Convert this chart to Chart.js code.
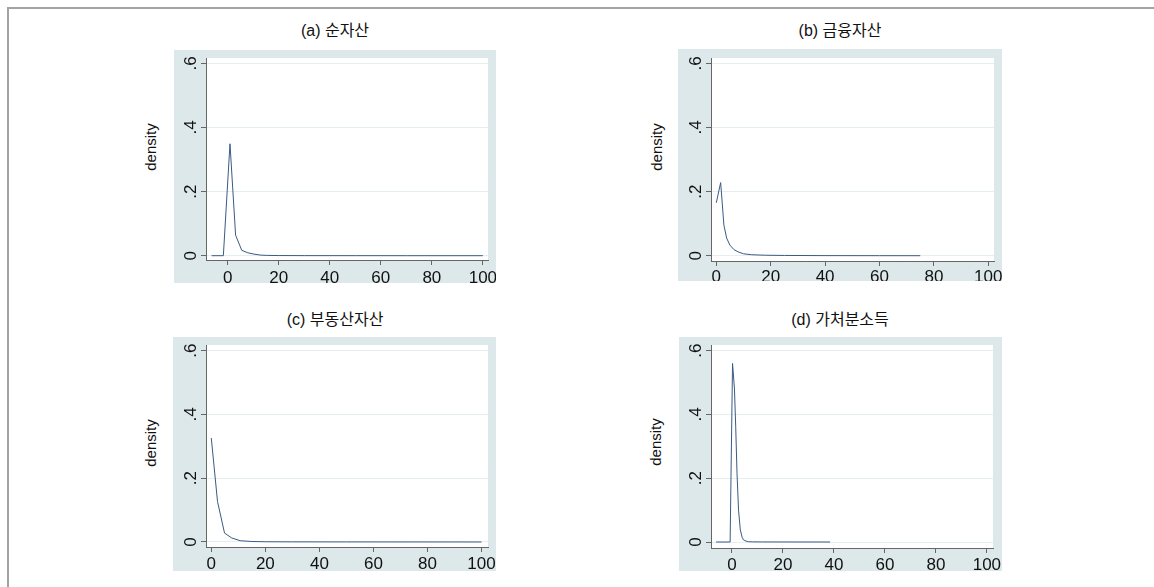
<!DOCTYPE html>
<html lang="ko">
<head>
<meta charset="UTF-8">
<title>자산 및 소득 분포 밀도</title>
<script src="https://cdn.jsdelivr.net/npm/chart.js"></script>
<style>
  body { margin: 0; width: 1154px; height: 587px; background: #fff; position: relative; overflow: hidden;
         font-family: "Liberation Sans", "Noto Sans CJK KR", sans-serif; }
  .moldura { position: absolute; left: 7px; top: 7px; right: -5px; bottom: -5px;
             border-top: 2px solid #a3a3a3; border-left: 2px solid #a3a3a3; }
  .painel { position: absolute; background: #dde8ea; }
  .painel canvas { display: block; }
  .titulo { position: absolute; font-size: 16px; color: #111; white-space: nowrap; transform: translate(-50%, -50%); }
  .ylab { position: absolute; font-size: 15px; color: #111; white-space: nowrap; transform: translate(-50%, -50%) rotate(-90deg); }
</style>
</head>
<body>
<div class="moldura"></div>

<script>
// valores
const titulos = ['(a) 순자산', '(b) 금융자산', '(c) 부동산자산', '(d) 가처분소득'];
const rotuloY = 'density';

const xA = [-6.3, -1.7, 0.9, 3.1, 5.5, 7.9, 10.3, 12.7, 15.1, 20, 30, 50, 70, 100];
const yA = [0, 0, 0.349, 0.064, 0.017, 0.009, 0.005, 0.002, 0.001, 0.0005, 0.0002, 0.0001, 0, 0];

const xB = [0, 1.6, 2.8, 3.8, 5, 6.5, 8, 10, 13, 18, 25, 40, 60, 75];
const yB = [0.165, 0.228, 0.095, 0.055, 0.033, 0.019, 0.012, 0.006, 0.003, 0.0015, 0.0008, 0.0003, 0.0001, 0];

const xC = [0, 2.3, 4.9, 7.6, 10.7, 15, 20, 30, 50, 75, 100];
const yC = [0.326, 0.127, 0.028, 0.0125, 0.004, 0.0015, 0.0008, 0.0004, 0.0002, 0.0001, 0];

const xD = [-6.2, -0.7, 0.25, 1.0, 1.5, 2.0, 2.6, 3.3, 4.0, 4.5, 5.5, 6.5, 8, 12, 20, 38.5];
const yD = [0, 0, 0.56, 0.48, 0.36, 0.216, 0.10, 0.038, 0.015, 0.007, 0.003, 0.001, 0.0005, 0.0002, 0.0001, 0];

const xTicks = [0, 20, 40, 60, 80, 100];
const xTickLabels = ['0', '20', '40', '60', '80', '100'];
const yTicks = [0, 0.2, 0.4, 0.6];
const yTickLabels = ['0', '.2', '.4', '.6'];

// posição de cada painel na página: caixa = fundo, area = região do gráfico
const paineis = [
  { x: xA, y: yA, caixa: [174, 50, 496, 283], area: [206, 58, 488, 260], xmin: -8.5, xmax: 102, ymin: -0.0134, ymax: 0.6165, pad: 3, tit: [335, 29], lab: [150, 147] },
  { x: xB, y: yB, caixa: [678, 49, 1002, 281], area: [711, 58, 994, 261], xmin: -1.95, xmax: 102.1, ymin: -0.0165, ymax: 0.6165, pad: 1, tit: [840, 29], lab: [656, 147] },
  { x: xC, y: yC, caixa: [173, 337, 496, 571], area: [206, 345, 488, 547], xmin: -1.96, xmax: 102.4, ymin: -0.0157, ymax: 0.6178, pad: 2, tit: [335, 318], lab: [150, 443] },
  { x: xD, y: yD, caixa: [679, 337, 1002, 571], area: [711, 345, 993, 548], xmin: -8.2, xmax: 102.4, ymin: -0.0188, ymax: 0.6178, pad: 2, tit: [840, 318], lab: [655, 442] }
];

const fonte = { family: '"Liberation Sans", Arial, sans-serif', size: 17 };

// pinta a região do gráfico de branco
const fundoBranco = {
  id: 'fundoBranco',
  beforeDraw(chart) {
    const a = chart.chartArea;
    chart.ctx.save();
    chart.ctx.fillStyle = '#ffffff';
    chart.ctx.fillRect(a.left, a.top, a.right - a.left, a.bottom - a.top);
    chart.ctx.restore();
  }
};

function semPadding(s) {
  s.paddingLeft = 0; s.paddingRight = 0; s.paddingTop = 0; s.paddingBottom = 0;
}

paineis.forEach(function(p, i) {
  const [bl, bt, br, bb] = p.caixa;
  const [al, at, ar, ab] = p.area;

  const div = document.createElement('div');
  div.className = 'painel';
  div.style.left = bl + 'px';
  div.style.top = bt + 'px';
  div.style.width = (br - bl) + 'px';
  div.style.height = (bb - bt) + 'px';
  const canvas = document.createElement('canvas');
  canvas.width = br - bl;
  canvas.height = bb - bt;
  div.appendChild(canvas);
  document.body.appendChild(div);

  const t = document.createElement('div');
  t.className = 'titulo';
  t.textContent = titulos[i];
  t.style.left = p.tit[0] + 'px';
  t.style.top = p.tit[1] + 'px';
  document.body.appendChild(t);

  const l = document.createElement('div');
  l.className = 'ylab';
  l.textContent = rotuloY;
  l.style.left = p.lab[0] + 'px';
  l.style.top = p.lab[1] + 'px';
  document.body.appendChild(l);

  new Chart(canvas, {
    type: 'scatter',
    data: {
      datasets: [{
        data: p.x.map((v, k) => ({ x: v, y: p.y[k] })),
        showLine: true,
        borderColor: '#3b5b82',
        borderWidth: 1,
        pointRadius: 0,
        tension: 0
      }]
    },
    options: {
      responsive: false,
      animation: false,
      layout: { padding: { left: 0, top: at - bt, right: br - ar, bottom: 0 } },
      plugins: { legend: { display: false }, tooltip: { enabled: false } },
      scales: {
        x: {
          type: 'linear',
          min: p.xmin,
          max: p.xmax,
          afterBuildTicks: s => { s.ticks = xTicks.map(v => ({ value: v })); },
          afterFit: s => { s.height = bb - ab; semPadding(s); },
          ticks: {
            callback: v => xTickLabels[xTicks.indexOf(v)],
            font: fonte, color: '#111', padding: p.pad, maxRotation: 0, autoSkip: false
          },
          grid: { drawOnChartArea: false, tickLength: 5, tickColor: '#666' },
          border: { color: '#666', width: 1 }
        },
        y: {
          type: 'linear',
          min: p.ymin,
          max: p.ymax,
          afterBuildTicks: s => { s.ticks = yTicks.map(v => ({ value: v })); },
          afterFit: s => { s.width = al - bl; semPadding(s); },
          ticks: {
            callback: v => yTickLabels[yTicks.indexOf(v)],
            font: fonte, color: '#111', padding: 3, minRotation: 90, maxRotation: 90,
            crossAlign: 'center', autoSkip: false
          },
          grid: { color: '#e6eff0', tickColor: '#666', tickLength: 5 },
          border: { color: '#666', width: 1 }
        }
      }
    },
    plugins: [fundoBranco]
  });
});
</script>
</body>
</html>
